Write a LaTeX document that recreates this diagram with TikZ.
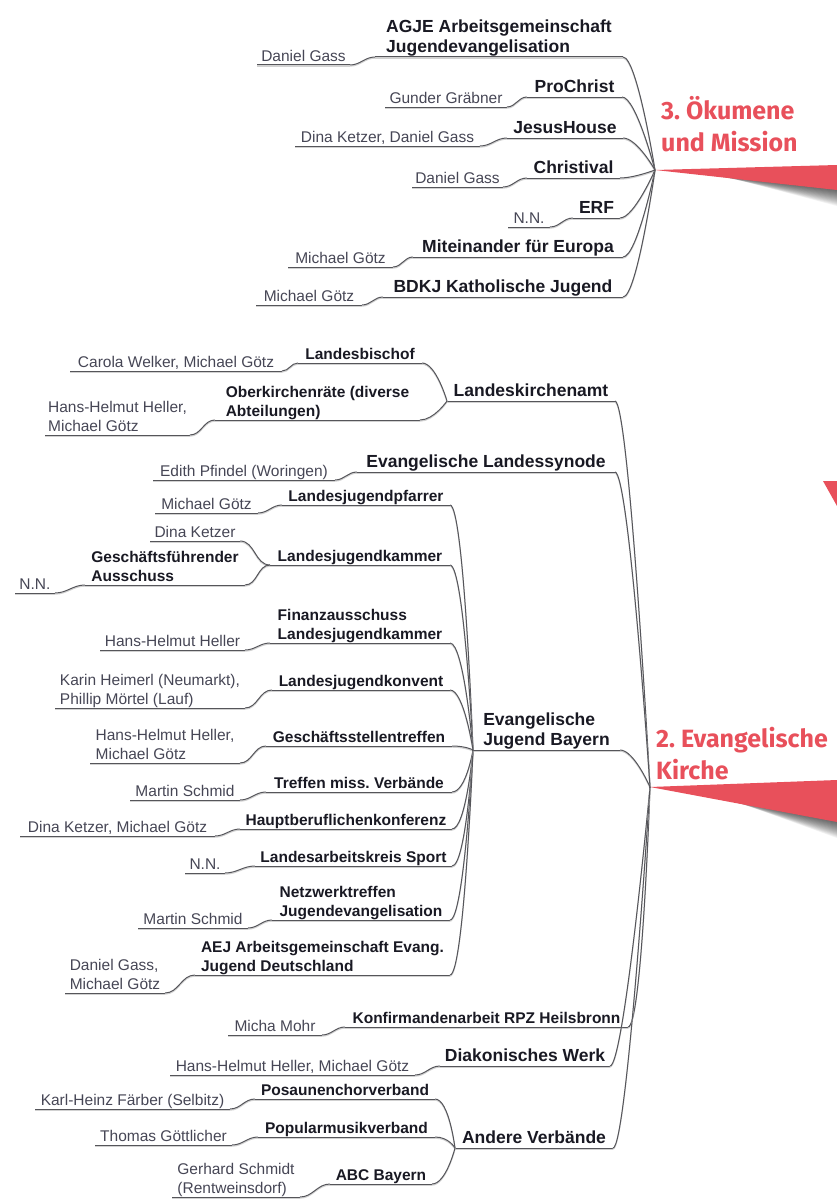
\documentclass[tikz,border=0pt]{standalone}
\usepackage{fontspec}
\setmainfont{Liberation Sans}
\newfontfamily\titlefont{Fira Sans}
\usepackage{tikz}
\usetikzlibrary{calc, positioning}
\frenchspacing

\definecolor{kirchenrot}{RGB}{232,80,91}
\definecolor{linegray}{RGB}{85,85,90}
\definecolor{namegray}{RGB}{70,70,85}
\definecolor{titleblack}{RGB}{25,25,35}

\begin{document}
\begin{tikzpicture}[x=1pt, y=1pt,
            link/.style={draw=linegray, line width=1pt, preaction={draw=black!18, line width=1.2pt, transform canvas={yshift=-1.1pt}}},
            underlined/.style={append after command={(\tikzlastnode.south west) edge[link] (\tikzlastnode.south east)}},
            branchnode1/.style={anchor=south west, inner xsep=0pt, inner ysep=0pt, outer sep=0pt, text depth=4.5pt, align=left, text=titleblack, font=\fontsize{17.5}{20.5}\selectfont\bfseries, underlined},
            branchnode2/.style={branchnode1, text depth=4pt, font=\fontsize{15.5}{19}\selectfont\bfseries},
            namenode/.style={branchnode1, text depth=3.5pt, text=namegray, font=\fontsize{15.5}{19}\selectfont},
            titlenode/.style={anchor=north west, inner sep=0pt, align=left, text=kirchenrot, font=\fontsize{25}{32}\selectfont\titlefont\bfseries},
            hubcurve/.style={to path={.. controls +(14,0) and (\tikztotarget) .. (\tikztotarget)}},
            ]
            \useasboundingbox (0,0) rectangle (837,-1199);

            %Hubs and wedges
            \coordinate (h3) at (655,-170);
            \coordinate (h2) at (650,-787);
            \foreach \d in {1,...,16} {
              \fill[black, opacity=0.05] ($(h3)+(14+2*\d,0)$) -- (837,-168) -- (837,-190-\d) -- cycle;
              \fill[black, opacity=0.05] ($(h2)+(14+2*\d,0)$) -- (837,-785) -- (837,-822-\d) -- cycle;
            }
            \fill[kirchenrot] (h3) -- (837,-165) -- (837,-190) -- cycle;
            \fill[kirchenrot] (h2) -- (837,-780) -- (837,-822) -- cycle;
            \fill[kirchenrot] (823,-481) -- (837,-481) -- (837,-506) -- cycle;

            \node[titlenode] (oekumene) at (661,-96) {3. Ökumene\\und Mission};
            \node[titlenode] (kirche)   at (656,-727) {2. Evangelische\\Kirche};

            %Nodes
            \node[branchnode1, minimum width=248pt] (agje)       at (375,-57)  {AGJE Arbeitsgemeinschaft\\Jugendevangelisation};
            \node[namenode,    minimum width=93pt]  (gass1)      at (257,-65)  {Daniel Gass};
            \node[branchnode1, minimum width=95pt]  (prochrist)  at (527,-97)  {ProChrist};
            \node[namenode,    minimum width=122pt] (graebner)   at (385,-107) {Gunder Gräbner};
            \node[branchnode1, minimum width=116pt] (jesushouse) at (507,-138) {JesusHouse};
            \node[namenode,    minimum width=185pt] (ketzergass) at (295,-146) {Dina Ketzer, Daniel Gass};
            \node[branchnode1, minimum width=93pt]  (christival) at (527,-178) {Christival};
            \node[namenode,    minimum width=91pt]  (gass2)      at (412,-187) {Daniel Gass};
            \node[branchnode1, minimum width=47pt]  (erf)        at (573,-218) {ERF};
            \node[namenode,    minimum width=42pt]  (nn1)        at (508,-227) {N.N.};
            \node[branchnode1, minimum width=210pt] (europa)     at (413,-257) {Miteinander für Europa};
            \node[namenode,    minimum width=105pt] (goetz1)     at (288,-267) {Michael Götz};
            \node[branchnode1, minimum width=240pt] (bdkj)       at (383,-297) {BDKJ Katholische Jugend};
            \node[namenode,    minimum width=106pt] (goetz2)     at (256,-305) {Michael Götz};

            \node[branchnode1, minimum width=168pt] (kirchenamt)       at (447,-401) {Landeskirchenamt};
            \node[branchnode2, minimum width=124pt] (bischof)          at (298,-363) {Landesbischof};
            \node[namenode,    minimum width=212pt] (welkergoetz)      at (70,-371)  {Carola Welker, Michael Götz};
            \node[branchnode2, minimum width=205pt] (oberkirchenraete) at (215,-420) {Oberkirchenräte (diverse\\Abteilungen)};
            \node[namenode,    minimum width=145pt] (hellergoetz1)     at (45,-435)  {Hans-Helmut Heller,\\Michael Götz};
            \node[branchnode1, minimum width=258pt] (synode)           at (357,-472) {Evangelische Landessynode};
            \node[namenode,    minimum width=182pt] (pfindel)          at (153,-480) {Edith Pfindel (Woringen)};

            \node[branchnode1, minimum width=147pt] (ejb)               at (473,-750) {Evangelische\\Jugend Bayern};
            \node[branchnode2, minimum width=168pt] (jugendpfarrer)     at (282,-505) {Landesjugendpfarrer};
            \node[namenode,    minimum width=103pt] (goetz3)            at (155,-513) {Michael Götz};
            \node[branchnode2, minimum width=180pt] (jugendkammer)      at (270,-565) {Landesjugendkammer};
            \node[namenode,    minimum width=90pt]  (ketzer)            at (150,-541) {Dina Ketzer};
            \node[branchnode2, minimum width=160pt] (ausschuss)         at (85,-585)  {Geschäftsführender\\Ausschuss};
            \node[namenode,    minimum width=40pt]  (nn2)               at (15,-593)  {N.N.};
            \node[branchnode2, minimum width=180pt] (finanz)            at (270,-643) {Finanzausschuss\\Landesjugendkammer};
            \node[namenode,    minimum width=145pt] (heller)            at (100,-650) {Hans-Helmut Heller};
            \node[branchnode2, minimum width=178pt] (konvent)           at (272,-690) {Landesjugendkonvent};
            \node[namenode,    minimum width=190pt] (heimerl)           at (55,-708)  {Karin Heimerl (Neumarkt),\\Phillip Mörtel (Lauf)};
            \node[branchnode2, minimum width=186pt] (geschaeftsstellen) at (266,-746) {Geschäftsstellentreffen};
            \node[namenode,    minimum width=150pt] (hellergoetz2)      at (90,-763)  {Hans-Helmut Heller,\\Michael Götz};
            \node[branchnode2, minimum width=186pt] (treffen)           at (266,-792) {Treffen miss. Verbände};
            \node[namenode,    minimum width=110pt] (schmid1)           at (130,-800) {Martin Schmid};
            \node[branchnode2, minimum width=212pt] (hauptberufliche)   at (240,-829) {Hauptberuflichenkonferenz};
            \node[namenode,    minimum width=195pt] (ketzergoetz)       at (20,-836)  {Dina Ketzer, Michael Götz};
            \node[branchnode2, minimum width=197pt] (sport)             at (255,-866) {Landesarbeitskreis Sport};
            \node[namenode,    minimum width=40pt]  (nn3)               at (185,-873) {N.N.};
            \node[branchnode2, minimum width=178pt] (netzwerk)          at (272,-920) {Netzwerktreffen\\Jugendevangelisation};
            \node[namenode,    minimum width=110pt] (schmid2)           at (138,-928) {Martin Schmid};
            \node[branchnode2, minimum width=255pt] (aej)               at (195,-975) {AEJ Arbeitsgemeinschaft Evang.\\Jugend Deutschland};
            \node[namenode,    minimum width=100pt] (gassgoetz)         at (65,-993)  {Daniel Gass,\\Michael Götz};

            \node[branchnode2, minimum width=283pt] (konfi)        at (345,-1027) {Konfirmandenarbeit RPZ Heilsbronn};
            \node[namenode,    minimum width=94pt]  (mohr)         at (228,-1035) {Micha Mohr};
            \node[branchnode1, minimum width=170pt] (diakonie)     at (440,-1066) {Diakonisches Werk};
            \node[namenode,    minimum width=245pt] (hellergoetz3) at (170,-1075) {Hans-Helmut Heller, Michael Götz};
            \node[branchnode1, minimum width=158pt] (andere)       at (455,-1148) {Andere Verbände};
            \node[branchnode2, minimum width=180pt] (posaunen)     at (255,-1099) {Posaunenchorverband};
            \node[namenode,    minimum width=195pt] (faerber)      at (35,-1109)  {Karl-Heinz Färber (Selbitz)};
            \node[branchnode2, minimum width=177pt] (popmusik)     at (258,-1137) {Popularmusikverband};
            \node[namenode,    minimum width=137pt] (goettlicher)  at (95,-1145)  {Thomas Göttlicher};
            \node[branchnode2, minimum width=102pt] (abc)          at (330,-1184) {ABC Bayern};
            \node[namenode,    minimum width=128pt] (gschmidt)     at (172,-1197) {Gerhard Schmidt\\(Rentweinsdorf)};

            %Lines
            \draw[link] (agje.south east) to[hubcurve] (h3);
            \draw[link] (prochrist.south east) to[hubcurve] (h3);
            \draw[link] (jesushouse.south east) to[hubcurve] (h3);
            \draw[link] (christival.south east) to[hubcurve] (h3);
            \draw[link] (erf.south east) to[hubcurve] (h3);
            \draw[link] (europa.south east) to[hubcurve] (h3);
            \draw[link] (bdkj.south east) to[hubcurve] (h3);
            \draw[link] (gass1.south east) to[out=0,in=180] (agje.south west);
            \draw[link] (graebner.south east) to[out=0,in=180] (prochrist.south west);
            \draw[link] (ketzergass.south east) to[out=0,in=180] (jesushouse.south west);
            \draw[link] (gass2.south east) to[out=0,in=180] (christival.south west);
            \draw[link] (nn1.south east) to[out=0,in=180] (erf.south west);
            \draw[link] (goetz1.south east) to[out=0,in=180] (europa.south west);
            \draw[link] (goetz2.south east) to[out=0,in=180] (bdkj.south west);

            \draw[link] (kirchenamt.south east) to[hubcurve] (h2);
            \draw[link] (synode.south east) to[hubcurve] (h2);
            \draw[link] (ejb.south east) to[hubcurve] (h2);
            \draw[link] (konfi.south east) to[hubcurve] (h2);
            \draw[link] (diakonie.south east) to[hubcurve] (h2);
            \draw[link] (andere.south east) to[hubcurve] (h2);

            \draw[link] (bischof.south east) to[hubcurve] (kirchenamt.south west);
            \draw[link] (oberkirchenraete.south east) to[hubcurve] (kirchenamt.south west);
            \draw[link] (welkergoetz.south east) to[out=0,in=180] (bischof.south west);
            \draw[link] (hellergoetz1.south east) to[out=0,in=180] (oberkirchenraete.south west);
            \draw[link] (pfindel.south east) to[out=0,in=180] (synode.south west);

            \draw[link] (jugendpfarrer.south east) to[hubcurve] (ejb.south west);
            \draw[link] (jugendkammer.south east) to[hubcurve] (ejb.south west);
            \draw[link] (finanz.south east) to[hubcurve] (ejb.south west);
            \draw[link] (konvent.south east) to[hubcurve] (ejb.south west);
            \draw[link] (geschaeftsstellen.south east) to[hubcurve] (ejb.south west);
            \draw[link] (treffen.south east) to[hubcurve] (ejb.south west);
            \draw[link] (hauptberufliche.south east) to[hubcurve] (ejb.south west);
            \draw[link] (sport.south east) to[hubcurve] (ejb.south west);
            \draw[link] (netzwerk.south east) to[hubcurve] (ejb.south west);
            \draw[link] (aej.south east) to[hubcurve] (ejb.south west);
            \draw[link] (goetz3.south east) to[out=0,in=180] (jugendpfarrer.south west);
            \draw[link] (ketzer.south east) to[out=0,in=180] (jugendkammer.south west);
            \draw[link] (ausschuss.south east) to[out=0,in=180] (jugendkammer.south west);
            \draw[link] (nn2.south east) to[out=0,in=180] (ausschuss.south west);
            \draw[link] (heller.south east) to[out=0,in=180] (finanz.south west);
            \draw[link] (heimerl.south east) to[out=0,in=180] (konvent.south west);
            \draw[link] (hellergoetz2.south east) to[out=0,in=180] (geschaeftsstellen.south west);
            \draw[link] (schmid1.south east) to[out=0,in=180] (treffen.south west);
            \draw[link] (ketzergoetz.south east) to[out=0,in=180] (hauptberufliche.south west);
            \draw[link] (nn3.south east) to[out=0,in=180] (sport.south west);
            \draw[link] (schmid2.south east) to[out=0,in=180] (netzwerk.south west);
            \draw[link] (gassgoetz.south east) to[out=0,in=180] (aej.south west);

            \draw[link] (mohr.south east) to[out=0,in=180] (konfi.south west);
            \draw[link] (hellergoetz3.south east) to[out=0,in=180] (diakonie.south west);
            \draw[link] (posaunen.south east) to[hubcurve] (andere.south west);
            \draw[link] (popmusik.south east) to[hubcurve] (andere.south west);
            \draw[link] (abc.south east) to[hubcurve] (andere.south west);
            \draw[link] (faerber.south east) to[out=0,in=180] (posaunen.south west);
            \draw[link] (goettlicher.south east) to[out=0,in=180] (popmusik.south west);
            \draw[link] (gschmidt.south east) to[out=0,in=180] (abc.south west);
          \end{tikzpicture}
\end{document}
